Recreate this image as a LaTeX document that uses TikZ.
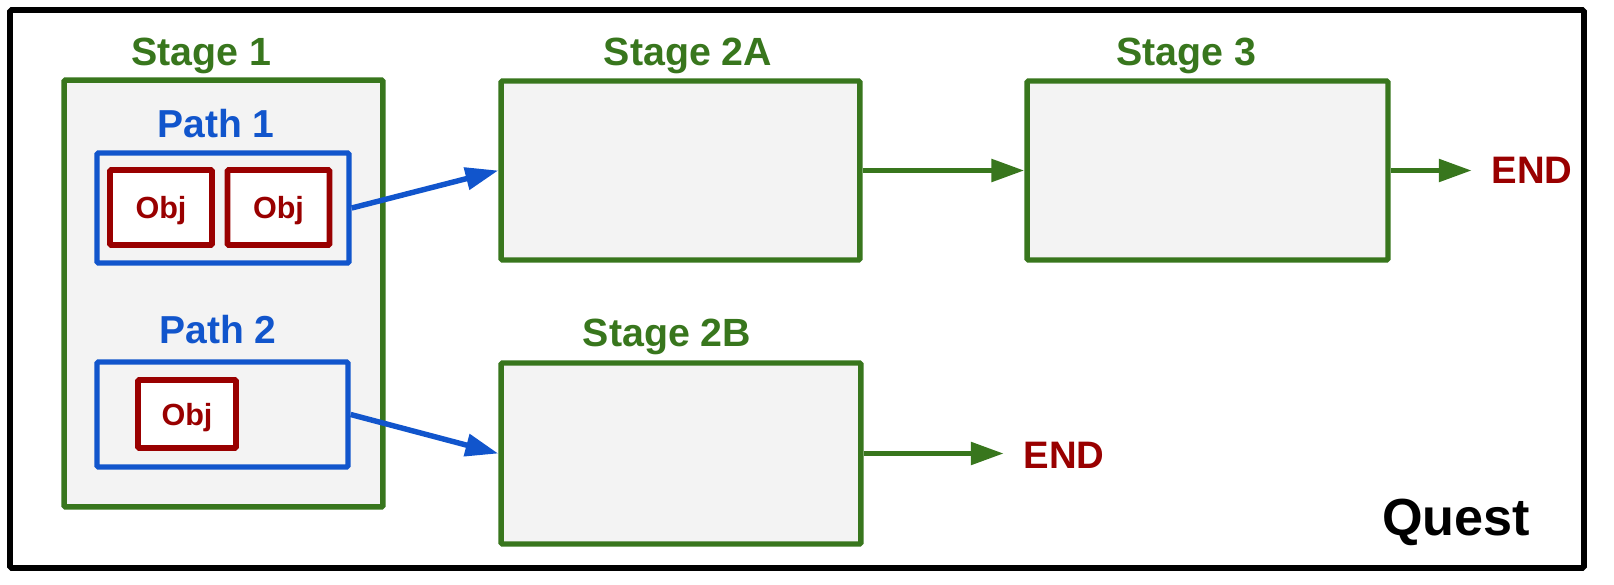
\documentclass[tikz,border=0pt]{standalone}
\usepackage{fontspec}
\setmainfont{Liberation Sans}
\usepackage{tikz}
\usetikzlibrary{arrows.meta}

\definecolor{stagegreen}{HTML}{38761D}
\definecolor{pathblue}{HTML}{1155CC}
\definecolor{objred}{HTML}{990000}
\definecolor{boxgray}{HTML}{F3F3F3}

\begin{document}
\begin{tikzpicture}[
    x=0.02cm, y=-0.02cm,
    every node/.style={font=\bfseries},
    stagebox/.style={rectangle, draw=stagegreen, line width=3.1pt,
                     fill=boxgray, rounded corners=0.8pt, inner sep=0pt},
    pathbox/.style={rectangle, draw=pathblue, line width=3.1pt,
                    fill=boxgray, rounded corners=0.8pt, inner sep=0pt},
    objbox/.style={rectangle, draw=objred, line width=3.4pt,
                   fill=white, rounded corners=0.8pt, inner sep=0pt,
                   text=objred, text depth=0pt,
                   font=\bfseries\fontsize{17.4}{20}\selectfont},
    stagelabel/.style={anchor=base, text=stagegreen,
                       font=\bfseries\fontsize{22.4}{26}\selectfont},
    pathlabel/.style={anchor=base, text=pathblue,
                      font=\bfseries\fontsize{22.2}{26}\selectfont},
    endlabel/.style={anchor=base, text=objred, inner xsep=0.39cm,
                     font=\bfseries\fontsize{21.8}{26}\selectfont},
    flow/.style={draw=stagegreen, line width=3.1pt,
                 -{Triangle[length=18.7pt, width=12.5pt]}},
    link/.style={draw=pathblue, line width=3.1pt,
                 -{Triangle[length=18.7pt, width=12.5pt]}},
]
\useasboundingbox (0,0) rectangle (1614,585);
\draw [line width=3.4pt, rounded corners=1pt] (10,10) rectangle (1584,568);

\node [stagebox, minimum width=6.38cm, minimum height=8.54cm] (s1) at (223.5,293.5) {};
\node [stagelabel] (s1lbl) at (201,65) {Stage 1};

\node [pathbox, minimum width=5.04cm, minimum height=2.2cm] (p1) at (223,208) {};
\node [pathlabel] (p1lbl) at (216,137) {Path 1};
\node [objbox, minimum width=2.04cm, minimum height=1.5cm] (o1) at (161,207.5) {Obj};
\node [objbox, minimum width=2.04cm, minimum height=1.5cm] (o2) at (278.5,207.5) {Obj};

\node [pathbox, minimum width=5.02cm, minimum height=2.1cm] (p2) at (222.5,414.5) {};
\node [pathlabel] (p2lbl) at (218,343) {Path 2};
\node [objbox, minimum width=1.96cm, minimum height=1.36cm] (o3) at (187,414) {Obj};

\node [stagebox, minimum width=7.18cm, minimum height=3.58cm] (s2a) at (680.5,170.5) {};
\node [stagelabel] (s2albl) at (688,65) {Stage 2A};

\node [stagebox, minimum width=7.22cm, minimum height=3.58cm] (s3) at (1207.5,170.5) {};
\node [stagelabel] (s3lbl) at (1186,65) {Stage 3};

\node [stagebox, minimum width=7.2cm, minimum height=3.62cm] (s2b) at (681,453.5) {};
\node [stagelabel] (s2blbl) at (667,346) {Stage 2B};

\node [endlabel] (end1) at (1532,183) {END};
\node [endlabel] (end2) at (1064,468) {END};

\node [anchor=base, font=\bfseries\fontsize{29.7}{34}\selectfont] (quest) at (1456,535) {Quest};

\draw [link] (p1.east) -- (s2a.west);
\draw [link] (p2.east) -- (s2b.west);
\draw [flow] (s2a.east) -- (s3.west);
\draw [flow] (s3.east) -- (s3.east -| end1.west);
\draw [flow] (s2b.east) -- (s2b.east -| end2.west);

\end{tikzpicture}
\end{document}
